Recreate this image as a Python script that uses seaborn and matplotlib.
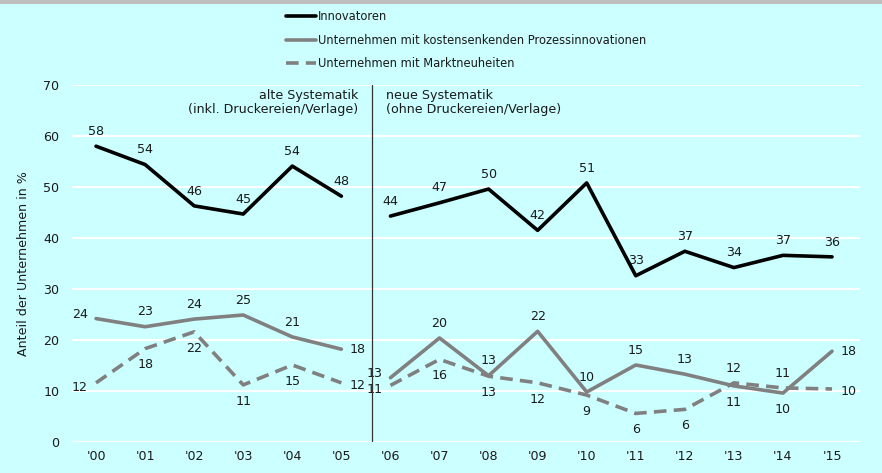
import matplotlib
matplotlib.use("Agg")
import matplotlib.pyplot as plt
from matplotlib.lines import Line2D
from matplotlib.patches import Rectangle
import seaborn as sns
import numpy as np

# Daten
years = ["'00", "'01", "'02", "'03", "'04", "'05", "'06", "'07",
         "'08", "'09", "'10", "'11", "'12", "'13", "'14", "'15"]
innovatoren = [58.0, 54.4, 46.3, 44.7, 54.1, 48.2, 44.3, 46.9,
               49.6, 41.5, 50.8, 32.6, 37.4, 34.2, 36.6, 36.3]
prozess = [24.2, 22.6, 24.1, 24.9, 20.6, 18.2, 12.6, 20.4,
           13.0, 21.7, 9.8, 15.1, 13.3, 11.0, 9.6, 17.8]
markt = [11.6, 18.3, 21.6, 11.2, 15.1, 11.6, 11.1, 16.2,
         12.9, 11.6, 9.2, 5.6, 6.4, 11.6, 10.6, 10.4]
series_names = ["Innovatoren",
                "Unternehmen mit kostensenkenden Prozessinnovationen",
                "Unternehmen mit Marktneuheiten"]
break_idx = 6  # neue Systematik ab '06

BG = "#CCFFFF"
GRAY = "#808080"
TXT = "#1a1a1a"

sns.set_style("white")
plt.rcParams["font.family"] = ["DejaVu Sans"]

fig = plt.figure(figsize=(8.82, 4.73), dpi=100)
fig.patch.set_facecolor(BG)
fig.patches.append(Rectangle((0, 1 - 4 / 473), 1, 4 / 473, transform=fig.transFigure,
                             facecolor="#BEBEBE", edgecolor="none"))
ax = fig.add_axes([72 / 882, 31 / 473, 788 / 882, 357 / 473])
ax.set_facecolor(BG)

x = np.arange(len(years))
styles = [dict(color="black", lw=2.6, linestyle="-"),
          dict(color=GRAY, lw=2.6, linestyle="-"),
          dict(color=GRAY, lw=2.6, linestyle=(0, (3.5, 2)))]
data = [innovatoren, prozess, markt]

for vals, st in zip(data, styles):
    v = np.array(vals)
    for seg in (slice(0, break_idx), slice(break_idx, len(years))):
        sns.lineplot(x=x[seg], y=v[seg], ax=ax, legend=False, zorder=3, **st)

# Beschriftungen
fs = 9.1
for i, val in enumerate(innovatoren):
    ax.annotate(f"{round(val)}", (x[i], val), xytext=(0, 6), textcoords="offset points",
                ha="center", va="bottom", fontsize=fs, color=TXT)

ends_left = {0, break_idx}
ends_right = {break_idx - 1, len(years) - 1}
for i in range(len(years)):
    for vals, other in ((prozess, markt), (markt, prozess)):
        val = vals[i]
        up = val >= other[i]
        if i in ends_left:
            ax.annotate(f"{round(val)}", (x[i], val), xytext=(-6, 3 if up else -3),
                        textcoords="offset points", ha="right", va="center",
                        fontsize=fs, color=TXT)
        elif i in ends_right:
            ax.annotate(f"{round(val)}", (x[i], val), xytext=(6, 0 if up else -2),
                        textcoords="offset points", ha="left", va="center",
                        fontsize=fs, color=TXT)
        else:
            ax.annotate(f"{round(val)}", (x[i], val), xytext=(0, 6 if up else -7),
                        textcoords="offset points", ha="center",
                        va="bottom" if up else "top", fontsize=fs, color=TXT)

# Trennlinie alte/neue Systematik
sep = break_idx - 0.38
ax.plot([sep, sep], [0, 70], color="#333333", lw=0.9, zorder=4)
ax.text(sep - 0.28, 69.3, "alte Systematik\n(inkl. Druckereien/Verlage)", ha="right", va="top",
        fontsize=fs, color=TXT, linespacing=1.1)
ax.text(sep + 0.28, 69.3, "neue Systematik\n(ohne Druckereien/Verlage)", ha="left", va="top",
        fontsize=fs, color=TXT, linespacing=1.1)

ax.set_xlim(-0.49, 15.57)
ax.set_ylim(0, 70)
ax.set_xticks(x)
ax.set_xticklabels(years)
ax.set_yticks(range(0, 71, 10))
ax.yaxis.grid(True, color="white", lw=1.5)
ax.set_axisbelow(True)
ax.tick_params(axis="both", length=0, labelsize=fs, colors=TXT)
ax.tick_params(axis="y", pad=9)
ax.tick_params(axis="x", pad=6)
for s in ax.spines.values():
    s.set_visible(False)
ax.set_ylabel("Anteil der Unternehmen in %", fontsize=fs, color=TXT, labelpad=10)

handles = [Line2D([], [], **st) for st in styles]
fig.legend(handles, series_names, loc="upper left", bbox_to_anchor=(276 / 882, 1),
           frameon=False, fontsize=8.3, handlelength=2.6, handletextpad=0.1,
           labelspacing=0.9, labelcolor=TXT)

fig.savefig("out.png", dpi=100, facecolor=BG)
